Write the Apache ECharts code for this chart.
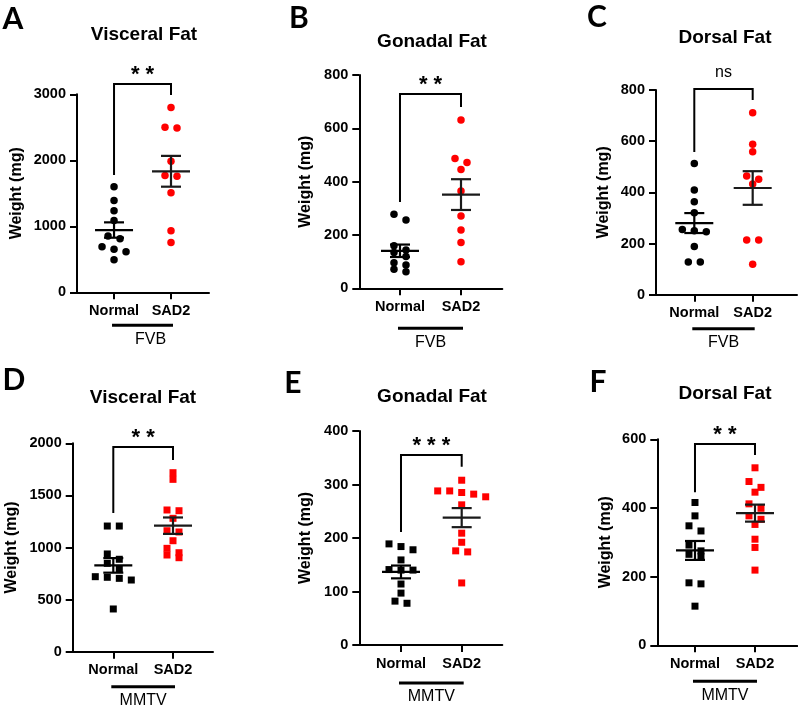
<!DOCTYPE html>
<html>
<head>
<meta charset="utf-8">
<script src="https://cdn.jsdelivr.net/npm/echarts@6/dist/echarts.min.js"></script>
<style>
html, body { margin: 0; padding: 0; background: #fff; }
#chart { width: 798px; height: 710px; }
</style>
</head>
<body>
<div id="chart"></div>
<script>
// group names on the x axis
const groups = ['Normal', 'SAD2'];

// FVB mice (circles), weight in mg
const visceralFvbNormal = [1600, 1390, 1237, 1086, 853, 813, 692, 652, 616, 495];
const visceralFvbSad2 = [2800, 2500, 2490, 1985, 1770, 1760, 1510, 934, 753];
const gonadalFvbNormal = [278, 256, 160, 144, 134, 119, 96, 87, 71, 62];
const gonadalFvbSad2 = [631, 487, 472, 446, 365, 271, 219, 172, 100];
const dorsalFvbNormal = [513, 409, 363, 320, 255, 250, 246, 188, 128, 128];
const dorsalFvbSad2 = [711, 588, 559, 464, 451, 433, 214, 214, 119];

// MMTV mice (squares), weight in mg
const visceralMmtvNormal = [1206, 1206, 938, 887, 848, 791, 720, 714, 704, 688, 410];
const visceralMmtvSad2 = [1718, 1654, 1360, 1353, 1280, 1161, 1149, 1065, 992, 950, 928, 902];
const gonadalMmtvNormal = [189, 184, 178, 159, 141, 140, 140, 114, 97, 82, 78];
const gonadalMmtvSad2 = [308, 288, 288, 285, 282, 277, 262, 209, 192, 176, 174, 116];
const dorsalMmtvNormal = [416, 377, 348, 333, 292, 275, 265, 258, 182, 179, 114];
const dorsalMmtvSad2 = [517, 477, 460, 446, 412, 399, 377, 367, 352, 309, 285, 219];

// y axis ranges
const yMaxes = [3000, 800, 800, 2000, 400, 600];
const ySteps = [1000, 200, 200, 500, 100, 200];

// significance: label and bracket heights [left foot, top, right foot]
const sigLabels = ['**', '**', 'ns', '**', '***', '**'];
const bracketLevels = [
	[1778, 3156, 2990],
	[324, 729, 680],
	[558, 804, 761],
	[1331, 1965, 1840],
	[211, 355, 333],
	[446, 586, 554]
];

const letters = ['A', 'B', 'C', 'D', 'E', 'F'];
const titles = ['Visceral Fat', 'Gonadal Fat', 'Dorsal Fat', 'Visceral Fat', 'Gonadal Fat', 'Dorsal Fat'];
const strains = ['FVB', 'FVB', 'FVB', 'MMTV', 'MMTV', 'MMTV'];
const normals = [visceralFvbNormal, gonadalFvbNormal, dorsalFvbNormal, visceralMmtvNormal, gonadalMmtvNormal, dorsalMmtvNormal];
const sad2s = [visceralFvbSad2, gonadalFvbSad2, dorsalFvbSad2, visceralMmtvSad2, gonadalMmtvSad2, dorsalMmtvSad2];

// layout of each panel (pixels)
const layout = [
	{ left: 77, top: 94.3, width: 132, height: 198, xMin: -0.65, xMax: 1.667, nameGap: 52, titleX: 144, titleY: 35, letterX: 13, letterY: 19, barOff: 33, labelShift: 8 },
	{ left: 359.3, top: 75, width: 143, height: 213.3, xMin: -0.667, xMax: 1.677, nameGap: 46, titleX: 432, titleY: 42, letterX: 299, letterY: 18, barOff: 40, labelShift: 0 },
	{ left: 656, top: 90, width: 141, height: 204.7, xMin: -0.656, xMax: 1.759, nameGap: 44, titleX: 725, titleY: 38, letterX: 597, letterY: 17, barOff: 34, labelShift: 0 },
	{ left: 72.7, top: 443.3, width: 140.3, height: 208.4, xMin: -0.68, xMax: 1.67, nameGap: 53, titleX: 143, titleY: 398, letterX: 14, letterY: 380, barOff: 35, labelShift: 0 },
	{ left: 359.3, top: 431, width: 143, height: 214, xMin: -0.687, xMax: 1.669, nameGap: 46, titleX: 432, titleY: 397, letterX: 293, letterY: 383, barOff: 38, labelShift: 0 },
	{ left: 657.3, top: 439.3, width: 140, height: 206, xMin: -0.628, xMax: 1.705, nameGap: 44, titleX: 725, titleY: 394, letterX: 598, letterY: 382, barOff: 36, labelShift: 0 }
];

const FONT = '"Liberation Sans", Arial, sans-serif';
const RED = '#ff0000';

// mean and SEM
function meanSem(arr) {
	const n = arr.length;
	const m = arr.reduce((s, v) => s + v, 0) / n;
	const sd = Math.sqrt(arr.reduce((s, v) => s + (v - m) * (v - m), 0) / (n - 1));
	return [m, sd / Math.sqrt(n)];
}

// simple row-based dot spreading (like a column scatter plot)
function spread(values, base, lay, yMax) {
	const pxPerY = lay.height / yMax;
	const pxPerX = lay.width / (lay.xMax - lay.xMin);
	const order = values.map((v, i) => i).sort((a, b) => values[b] - values[a]);
	const out = [];
	let row = [];
	const flush = () => {
		row.forEach((i, k) => {
			out.push([base + ((k - (row.length - 1) / 2) * 12) / pxPerX, values[i]]);
		});
		row = [];
	};
	order.forEach(i => {
		if (row.length && (values[row[0]] - values[i]) * pxPerY > 6.5) flush();
		row.push(i);
	});
	flush();
	return out;
}

const grid = [], xAxis = [], yAxis = [], series = [], graphic = [];

layout.forEach((lay, i) => {
	grid.push({ left: lay.left, top: lay.top, width: lay.width, height: lay.height });
	xAxis.push({
		gridIndex: i,
		type: 'value',
		min: lay.xMin,
		max: lay.xMax,
		splitLine: { show: false },
		axisLine: { show: true, onZero: false, lineStyle: { color: '#000', width: 2 } },
		axisTick: { show: true, customValues: [0, 1], length: 7, lineStyle: { color: '#000', width: 2 } },
		axisLabel: {
			customValues: [0, 1],
			formatter: v => groups[Math.round(v)],
			color: '#000',
			fontFamily: FONT,
			fontWeight: 'bold',
			fontSize: 14.5,
			margin: 11
		}
	});
	yAxis.push({
		gridIndex: i,
		type: 'value',
		min: 0,
		max: yMaxes[i],
		interval: ySteps[i],
		name: 'Weight (mg)',
		nameLocation: 'middle',
		nameGap: lay.nameGap,
		nameTextStyle: { color: '#000', fontFamily: FONT, fontWeight: 'bold', fontSize: 16 },
		splitLine: { show: false },
		axisLine: { show: true, onZero: false, lineStyle: { color: '#000', width: 2 } },
		axisTick: { show: true, length: 7, lineStyle: { color: '#000', width: 2 } },
		axisLabel: {
			formatter: v => String(v),
			color: '#000',
			fontFamily: FONT,
			fontWeight: 'bold',
			fontSize: 14.5,
			margin: 11
		}
	});

	const symbol = i < 3 ? 'circle' : 'rect';
	const size = i < 3 ? 7.5 : 7;
	series.push({
		type: 'scatter',
		xAxisIndex: i,
		yAxisIndex: i,
		symbol: symbol,
		symbolSize: size,
		itemStyle: { color: '#000', opacity: 1 },
		data: spread(normals[i], 0, lay, yMaxes[i]),
		z: 2
	});
	series.push({
		type: 'scatter',
		xAxisIndex: i,
		yAxisIndex: i,
		symbol: symbol,
		symbolSize: size,
		itemStyle: { color: RED, opacity: 1 },
		data: spread(sad2s[i], 1, lay, yMaxes[i]),
		z: 2
	});

	// mean ± SEM
	const ms0 = meanSem(normals[i]);
	const ms1 = meanSem(sad2s[i]);
	series.push({
		type: 'custom',
		xAxisIndex: i,
		yAxisIndex: i,
		z: 3,
		clip: false,
		data: [[0, ms0[0], ms0[1]], [1, ms1[0], ms1[1]]],
		renderItem: function(params, api) {
			const x = api.value(0), m = api.value(1), s = api.value(2);
			const c = api.coord([x, m]);
			const hi = api.coord([x, m + s]);
			const lo = api.coord([x, m - s]);
			const st = { stroke: params.dataIndex === 0 ? '#000' : '#1a1a1a', lineWidth: 2.2 };
			return {
				type: 'group',
				children: [
					{ type: 'line', shape: { x1: c[0] - 19, y1: c[1], x2: c[0] + 19, y2: c[1] }, style: st },
					{ type: 'line', shape: { x1: c[0], y1: hi[1], x2: c[0], y2: lo[1] }, style: st },
					{ type: 'line', shape: { x1: c[0] - 10, y1: hi[1], x2: c[0] + 10, y2: hi[1] }, style: st },
					{ type: 'line', shape: { x1: c[0] - 10, y1: lo[1], x2: c[0] + 10, y2: lo[1] }, style: st }
				]
			};
		}
	});

	// significance bracket + strain bar
	const lv = bracketLevels[i];
	const sig = sigLabels[i];
	const strain = strains[i];
	series.push({
		type: 'custom',
		xAxisIndex: i,
		yAxisIndex: i,
		z: 4,
		clip: false,
		silent: true,
		data: [[0, lv[0], lv[1], lv[2]]],
		renderItem: function(params, api) {
			const a = api.coord([0, api.value(1)]);
			const b = api.coord([0, api.value(2)]);
			const c = api.coord([1, api.value(2)]);
			const d = api.coord([1, api.value(3)]);
			const z0 = api.coord([0, 0]);
			const z1 = api.coord([1, 0]);
			const isStar = sig.charAt(0) === '*';
			const barY = z0[1] + lay.barOff;
			return {
				type: 'group',
				children: [
					{
						type: 'polyline',
						shape: { points: [a, b, c, d] },
						style: { stroke: '#000', lineWidth: 2, fill: null }
					},
					{
						type: 'text',
						x: (b[0] + c[0]) / 2,
						y: b[1] - (isStar ? 9 : 16),
						style: {
							text: isStar ? sig.split('').join(' ') : sig,
							fill: '#000',
							font: (isStar ? 'bold 22px ' : '16px ') + FONT,
							align: 'center',
							verticalAlign: 'middle'
						}
					},
					{
						type: 'line',
						shape: { x1: z0[0] - 2, y1: barY, x2: z1[0] + 2, y2: barY },
						style: { stroke: '#000', lineWidth: 3 }
					},
					{
						type: 'text',
						x: (z0[0] + z1[0]) / 2 + lay.labelShift,
						y: barY + 14,
						style: {
							text: strain,
							fill: '#000',
							font: '16px ' + FONT,
							align: 'center',
							verticalAlign: 'middle'
						}
					}
				]
			};
		}
	});

	graphic.push({
		type: 'text',
		x: lay.titleX,
		y: lay.titleY,
		style: { text: titles[i], fill: '#000', font: 'bold 19px ' + FONT, align: 'center', verticalAlign: 'middle' }
	});
	graphic.push({
		type: 'text',
		x: lay.letterX,
		y: lay.letterY,
		style: { text: letters[i], fill: '#000', font: 'bold 30px Lato, "Open Sans", sans-serif', align: 'center', verticalAlign: 'middle' }
	});
});

const chart = echarts.init(document.getElementById('chart'), null, { renderer: 'canvas' });
chart.setOption({
	animation: false,
	backgroundColor: '#fff',
	grid: grid,
	xAxis: xAxis,
	yAxis: yAxis,
	series: series,
	graphic: graphic
});
</script>
</body>
</html>
